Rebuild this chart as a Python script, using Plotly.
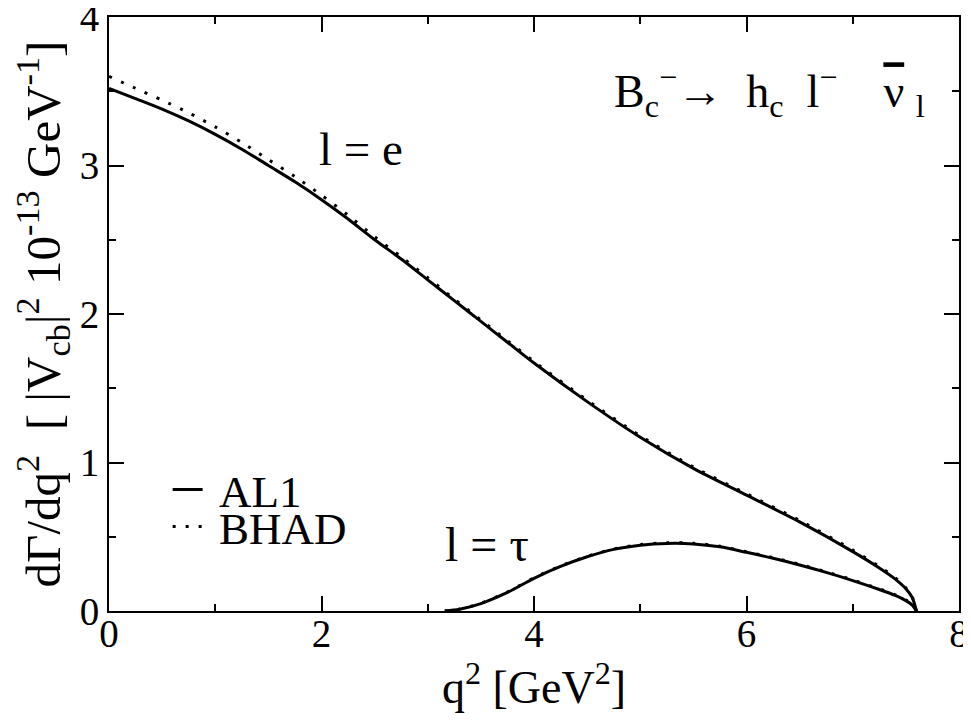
import plotly.graph_objects as go

# ---- data ----
q2_e = [0.0, 0.25, 0.5, 0.75, 1.0, 1.25, 1.5, 1.75, 2.0, 2.25, 2.5, 2.75, 3.0, 3.25, 3.5, 3.75, 4.0, 4.5, 5.0, 5.5, 6.0, 6.5, 7.0, 7.25, 7.4, 7.5, 7.56, 7.6]
al1_e = [3.52, 3.45, 3.38, 3.30, 3.21, 3.11, 3.00, 2.89, 2.77, 2.64, 2.50, 2.37, 2.23, 2.09, 1.95, 1.81, 1.67, 1.41, 1.17, 0.96, 0.78, 0.60, 0.40, 0.29, 0.215, 0.15, 0.09, 0.0]
bhad_e = [3.60, 3.52, 3.44, 3.355, 3.26, 3.155, 3.04, 2.925, 2.80, 2.665, 2.52, 2.385, 2.245, 2.10, 1.96, 1.82, 1.68, 1.42, 1.18, 0.97, 0.79, 0.61, 0.41, 0.30, 0.225, 0.155, 0.095, 0.0]

q2_tau = [3.16, 3.3, 3.5, 3.75, 4.0, 4.25, 4.5, 4.75, 5.0, 5.25, 5.5, 5.75, 6.0, 6.25, 6.5, 6.75, 7.0, 7.25, 7.4, 7.5, 7.56, 7.6]
al1_tau = [0.0, 0.012, 0.05, 0.125, 0.22, 0.30, 0.365, 0.415, 0.443, 0.455, 0.452, 0.432, 0.395, 0.355, 0.31, 0.26, 0.205, 0.145, 0.105, 0.07, 0.04, 0.0]
bhad_tau = [0.0, 0.013, 0.052, 0.128, 0.223, 0.303, 0.368, 0.418, 0.447, 0.459, 0.456, 0.436, 0.399, 0.359, 0.314, 0.264, 0.209, 0.149, 0.109, 0.074, 0.043, 0.0]

x_ticks = [0, 2, 4, 6, 8]
y_ticks = [0, 1, 2, 3, 4]

FONT = "Liberation Serif, Times New Roman, serif"
LW = 3
DOT = "3px,10px"

fig = go.Figure()
fig.add_trace(go.Scatter(x=q2_e, y=al1_e, mode="lines", name="\u00a0AL1", legend="legend",
                         line=dict(color="black", width=LW, shape="spline", smoothing=0.8)))
fig.add_trace(go.Scatter(x=q2_e, y=bhad_e, mode="lines", name="\u00a0BHAD", legend="legend2",
                         line=dict(color="black", width=LW, dash=DOT, shape="spline", smoothing=0.8)))
fig.add_trace(go.Scatter(x=q2_tau, y=al1_tau, mode="lines", showlegend=False,
                         line=dict(color="black", width=LW, shape="spline", smoothing=0.8)))
fig.add_trace(go.Scatter(x=q2_tau, y=bhad_tau, mode="lines", showlegend=False,
                         line=dict(color="black", width=LW, dash=DOT, shape="spline", smoothing=0.8)))

axis_common = dict(
    showgrid=False, zeroline=False, showline=True, linecolor="black", linewidth=2,
    mirror="allticks", ticks="inside", ticklen=15, tickwidth=1.5, tickcolor="black",
    tickfont=dict(family=FONT, size=39, color="black"), ticklabeloverflow="allow",
    automargin=False,
)

fig.update_xaxes(range=[0, 8], tickvals=x_ticks, ticktext=[str(v) for v in x_ticks],
                 minor=dict(dtick=1, ticks="inside", ticklen=7, tickwidth=1.5, tickcolor="black"),
                 ticklabelstandoff=-13,
                 title=dict(text="q<sup>2</sup> [GeV<sup>2</sup>]", font=dict(family=FONT, size=46, color="black"), standoff=8),
                 **axis_common)
fig.update_yaxes(range=[0, 4], tickvals=y_ticks, ticktext=[str(v) for v in y_ticks],
                 minor=dict(dtick=0.5, ticks="inside", ticklen=7, tickwidth=1.5, tickcolor="black"),
                 title=dict(text="dΓ/dq<sup>2</sup>  [ |V<sub>cb</sub>|<sup>2</sup> 10<sup>-13</sup> GeV<sup>-1</sup>]",
                            font=dict(family=FONT, size=49, color="black"), standoff=12),
                 **axis_common)

fig.add_annotation(x=2.376, y=3.11, text="l = e", showarrow=False, xref="x", yref="y",
                   font=dict(family=FONT, size=47, color="black"))
fig.add_annotation(x=3.56, y=0.45, text="l = τ", showarrow=False, xref="x", yref="y",
                   font=dict(family=FONT, size=48, color="black"))
fig.add_annotation(x=0.962, y=0.875, xref="paper", yref="paper", xanchor="right", yanchor="middle",
                   text="B<sub>c</sub><sup>−</sup>→  h<sub>c</sub>  l<sup>−</sup>    <span style='text-decoration:overline'>ν</span> <sub>l</sub>",
                   showarrow=False, font=dict(family=FONT, size=46, color="black"))

leg_common = dict(x=0.069, xanchor="left", yanchor="middle", bgcolor="rgba(0,0,0,0)",
                  font=dict(family=FONT, size=45, color="black"), itemwidth=30)
# the page body has an 8px margin, so the figure is sized/offset to land the axes where the reference has them
fig.update_layout(
    width=963, height=713,
    margin=dict(l=101, r=12, t=9, b=110),
    paper_bgcolor="white", plot_bgcolor="white",
    showlegend=True,
    legend=dict(y=0.204, **leg_common),
    legend2=dict(y=0.142, **leg_common),
)

fig.write_html("out.html")
